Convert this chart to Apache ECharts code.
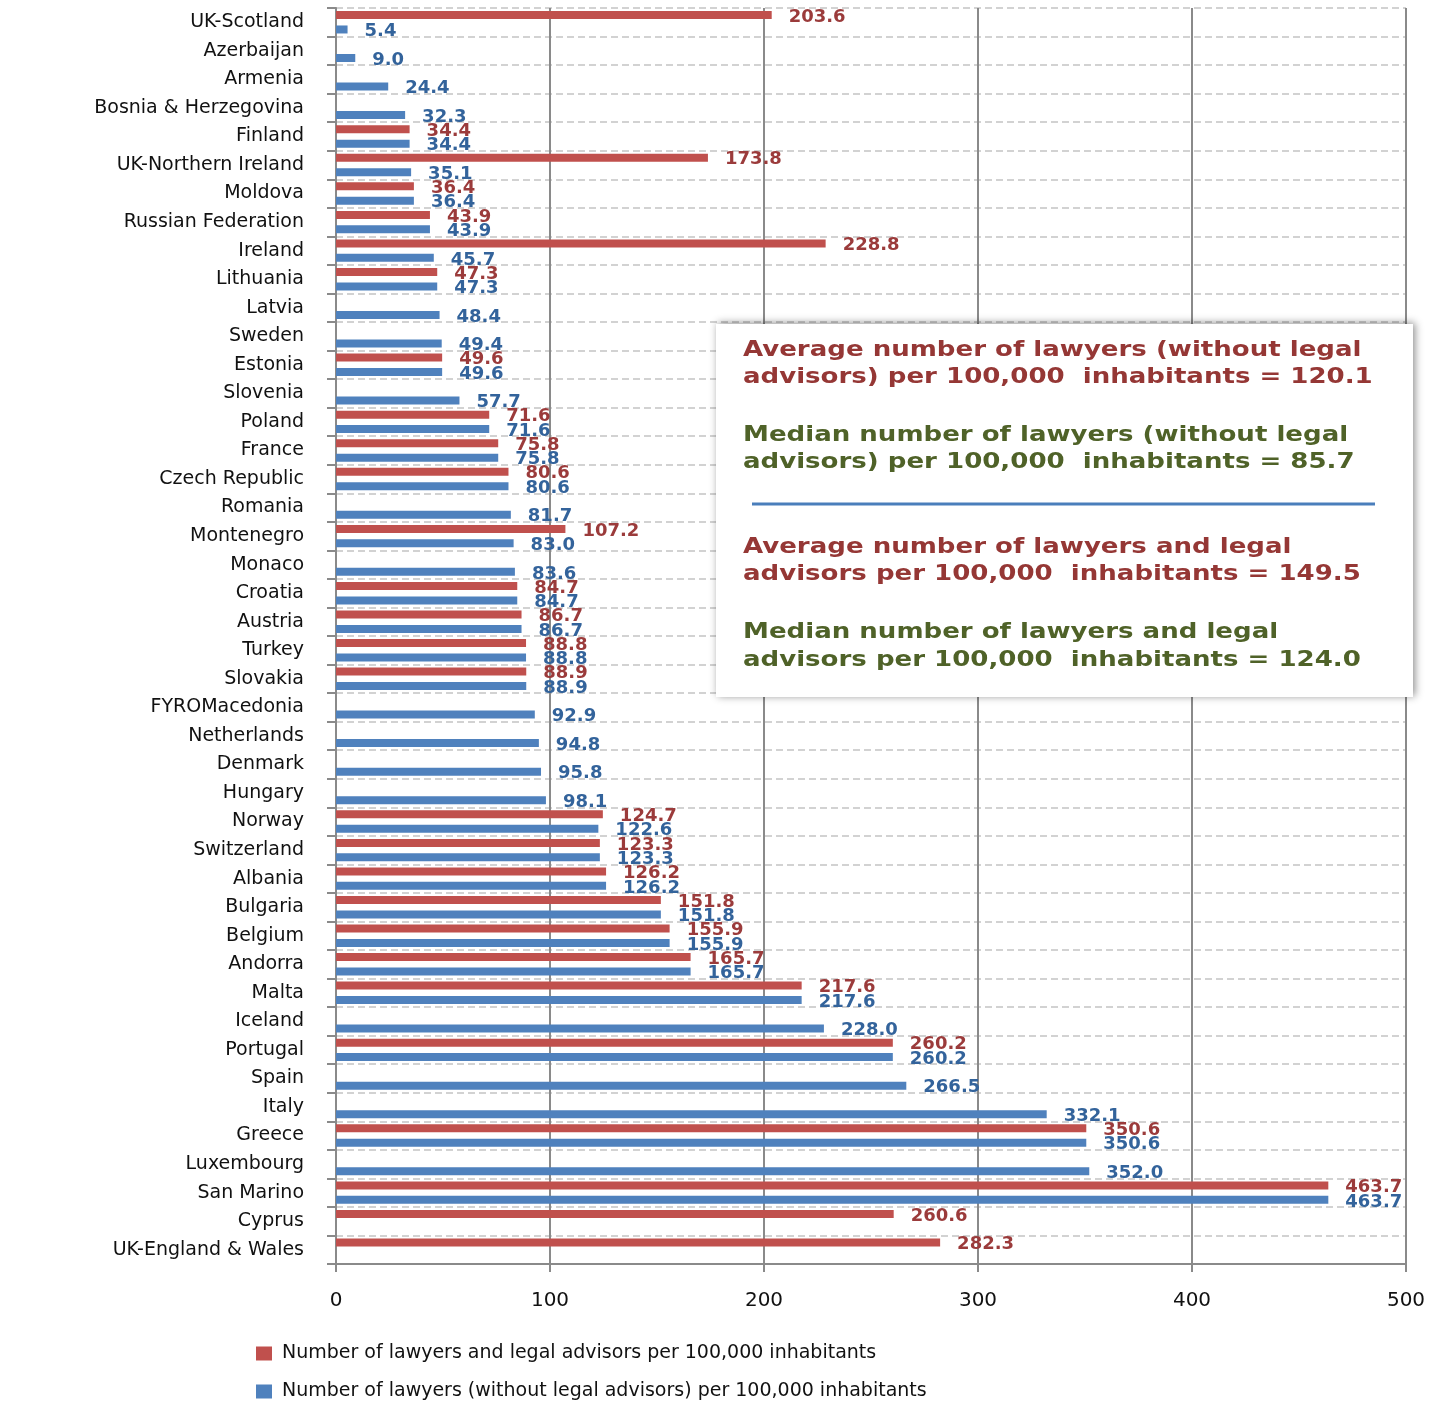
<!DOCTYPE html>
<html>
<head>
<meta charset="utf-8">
<script src="https://cdn.jsdelivr.net/npm/echarts@6/dist/echarts.min.js"></script>
<style>
html,body{margin:0;padding:0;background:#fff;}
#chart{width:1433px;height:1401px;}
</style>
</head>
<body>
<div id="chart"></div>
<script>
const categories = ["UK-Scotland","Azerbaijan","Armenia","Bosnia & Herzegovina","Finland","UK-Northern Ireland","Moldova","Russian Federation","Ireland","Lithuania","Latvia","Sweden","Estonia","Slovenia","Poland","France","Czech Republic","Romania","Montenegro","Monaco","Croatia","Austria","Turkey","Slovakia","FYROMacedonia","Netherlands","Denmark","Hungary","Norway","Switzerland","Albania","Bulgaria","Belgium","Andorra","Malta","Iceland","Portugal","Spain","Italy","Greece","Luxembourg","San Marino","Cyprus","UK-England & Wales"];
const lawyersAndAdvisors = [203.6,null,null,null,34.4,173.8,36.4,43.9,228.8,47.3,null,null,49.6,null,71.6,75.8,80.6,null,107.2,null,84.7,86.7,88.8,88.9,null,null,null,null,124.7,123.3,126.2,151.8,155.9,165.7,217.6,null,260.2,null,null,350.6,null,463.7,260.6,282.3];
const lawyersOnly = [5.4,9.0,24.4,32.3,34.4,35.1,36.4,43.9,45.7,47.3,48.4,49.4,49.6,57.7,71.6,75.8,80.6,81.7,83.0,83.6,84.7,86.7,88.8,88.9,92.9,94.8,95.8,98.1,122.6,123.3,126.2,151.8,155.9,165.7,217.6,228.0,260.2,266.5,332.1,350.6,352.0,463.7,null,null];
const seriesNames = ["Number of lawyers and legal advisors per 100,000 inhabitants","Number of lawyers (without legal advisors) per 100,000 inhabitants"];
const boxLines = [
  ["Average number of lawyers (without legal", "#953735"],
  ["advisors) per 100,000  inhabitants = 120.1", "#953735"],
  ["Median number of lawyers (without legal", "#4F6228"],
  ["advisors) per 100,000  inhabitants = 85.7", "#4F6228"],
  ["Average number of lawyers and legal", "#953735"],
  ["advisors per 100,000  inhabitants = 149.5", "#953735"],
  ["Median number of lawyers and legal", "#4F6228"],
  ["advisors per 100,000  inhabitants = 124.0", "#4F6228"]
];
const boxLineY = [351, 378, 436, 463, 548, 575, 633, 661];

const FONT = '"DejaVu Sans", Verdana, sans-serif';
const chart = echarts.init(document.getElementById('chart'), null, {renderer:'canvas'});

const boxTexts = boxLines.map((l, i) => ({
  type: 'text', z: 102,
  x: 743, y: boxLineY[i], scaleX: 1.24,
  style: { text: l[0], fill: l[1], font: 'bold 21px ' + FONT, x: 0, y: 0,
    textAlign: 'left', textVerticalAlign: 'middle' }
}));

function labelOpt(color){
  return { show: true, position: 'right', distance: 17, offset:[0,2],
    color: color, fontFamily: FONT, fontWeight: 'bold', fontSize: 18,
    formatter: p => p.value == null ? '' : Number(p.value).toFixed(1) };
}

const legendBase = {
  orient: 'horizontal', left: 256, itemWidth: 16, itemHeight: 14, padding: 0,
  icon: 'rect',
  textStyle: { fontFamily: FONT, fontSize: 19, color: '#111', padding: [0,0,0,5] }
};

chart.setOption({
  animation: false,
  backgroundColor: '#fff',
  grid: { left: 336, right: 27, top: 8, bottom: 137, containLabel: false },
  legend: [
    Object.assign({}, legendBase, { top: 1344, data: [seriesNames[0]] }),
    Object.assign({}, legendBase, { top: 1382, data: [seriesNames[1]] })
  ],
  xAxis: {
    type: 'value', min: 0, max: 500, interval: 100,
    axisLine: { show: true, lineStyle: { color: '#8a8a8a', width: 2 } },
    axisTick: { show: true, length: 8, lineStyle: { color: '#8a8a8a', width: 2 } },
    axisLabel: { margin: 27, fontFamily: FONT, fontSize: 20, color: '#111' },
    splitLine: { show: true, lineStyle: { color: '#8a8a8a', width: 2 } }
  },
  yAxis: {
    type: 'category', inverse: true, data: categories,
    axisLine: { show: true, lineStyle: { color: '#8a8a8a', width: 2 } },
    axisTick: { show: true, length: 9, lineStyle: { color: '#8a8a8a', width: 2 } },
    axisLabel: { margin: 32, fontFamily: FONT, fontSize: 19, color: '#111', interval: 0 },
    splitLine: { show: true, lineStyle: { color: '#c4c4c4', width: 1.5, type: [7,4] } }
  },
  series: [
    { name: seriesNames[0], type: 'bar', data: lawyersAndAdvisors, barWidth: 8, barGap: '80%',
      itemStyle: { color: '#C0504D' }, label: labelOpt('#9B3B3B') },
    { name: seriesNames[1], type: 'bar', data: lawyersOnly, barWidth: 8, barGap: '80%',
      itemStyle: { color: '#4F81BD' }, label: labelOpt('#33639B') }
  ],
  graphic: [
    { type: 'rect', z: 100, shape: { x: 716, y: 324, width: 697, height: 373 },
      style: { fill: '#fff', shadowBlur: 8, shadowColor: 'rgba(0,0,0,0.45)', shadowOffsetX: 2, shadowOffsetY: -1 } },
    { type: 'line', z: 101, shape: { x1: 752, y1: 504, x2: 1375, y2: 504 },
      style: { stroke: '#4A7EBB', lineWidth: 3 } }
  ].concat(boxTexts)
});
</script>
</body>
</html>
